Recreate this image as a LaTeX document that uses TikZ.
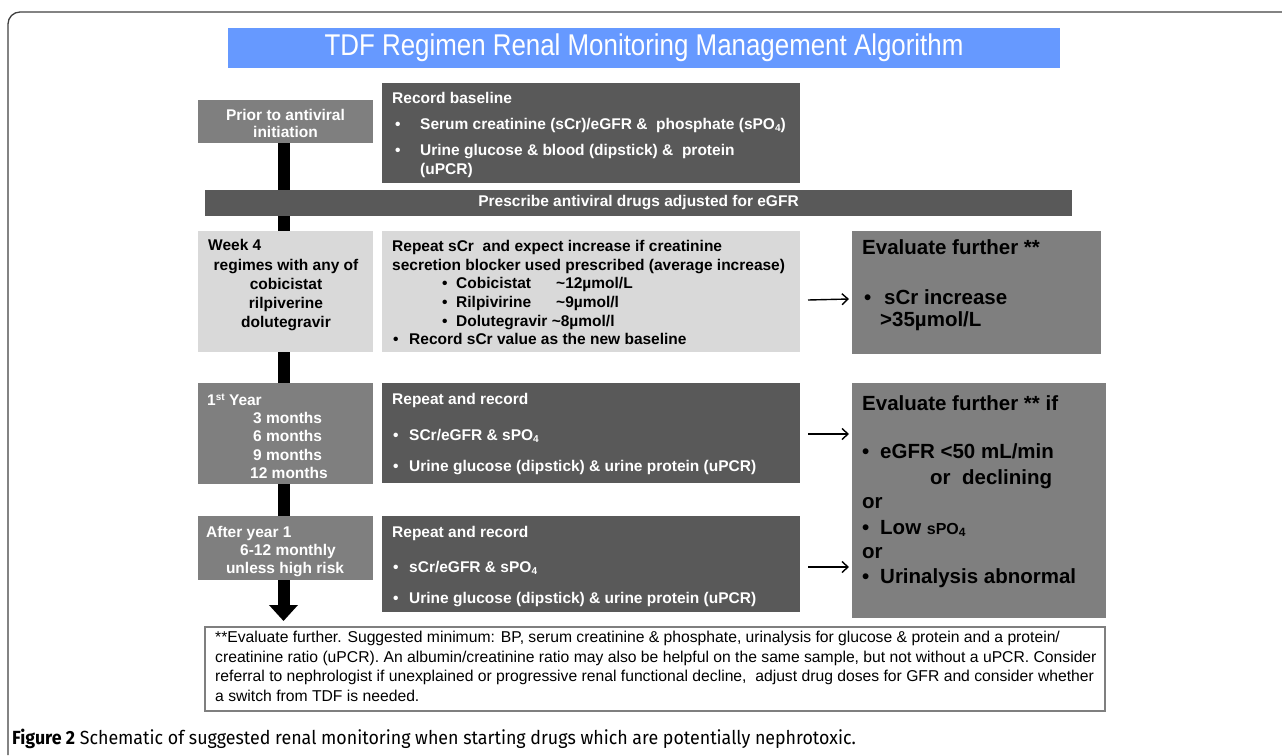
\documentclass[tikz,border=0pt]{standalone}
\usepackage{fontspec}
\setmainfont{Liberation Sans}
\newfontfamily\titlefont[FakeStretch=0.863]{Liberation Sans}
\newfontfamily\capfont[FakeStretch=0.938]{Fira Sans}
\usetikzlibrary{arrows.meta}
\definecolor{tblue}{HTML}{6699FF}
\definecolor{dgray}{HTML}{595959}
\definecolor{mgray}{HTML}{7F7F7F}
\definecolor{lgray}{HTML}{D9D9D9}
\definecolor{framec}{HTML}{404040}
\newcommand{\bodysize}{\fontsize{15.5}{19}\selectfont\bfseries}
\newcommand{\bigsize}{\fontsize{20.5}{24}\selectfont\bfseries}
\newcommand{\subA}[1]{\raisebox{-0.35ex}{\fontsize{10}{10}\selectfont #1}}
\newcommand{\subB}[1]{\raisebox{-0.35ex}{\fontsize{12}{12}\selectfont #1}}
\newcommand{\supA}[1]{\raisebox{0.55ex}{\fontsize{10}{10}\selectfont #1}}
\begin{document}
\begin{tikzpicture}[x=1pt,y=-1pt,
  box/.style={draw=none, inner sep=0pt, outer sep=0pt, anchor=north west},
  tw/.style={inner sep=0pt, text=white, font=\bodysize},
  tb/.style={inner sep=0pt, text=black, font=\bodysize},
  tbig/.style={inner sep=0pt, text=black, font=\bigsize},
  conn/.style={line width=1.4pt, -{Straight Barb[length=6pt,width=11pt]}},
  mainbar/.style={line width=12pt, -{Triangle[width=28pt,length=16pt]}}
]
\useasboundingbox (0,0) rectangle (1282,755);
% frame
\draw[line width=1.3pt, framec, rounded corners=12pt] (1282,12) -- (8,12) -- (8,755);
% title
\node[box, fill=tblue, minimum width=832pt, minimum height=40pt] (title) at (228,28) {};
\node[inner sep=0pt, text=white, font=\titlefont\fontsize{30}{32}\selectfont] (titletext) at (title.center) {TDF Regimen Renal Monitoring Management Algorithm};
% prior box and main bar
\node[box, fill=mgray, minimum width=175pt, minimum height=43pt] (prior) at (198,100) {};
\coordinate (barend) at (283.5,621);
\draw[mainbar] (prior.south -| barend) -- (barend);
\node[tw, align=center, font=\bodysize\fontsize{15.5}{17}\selectfont, yshift=-2pt] (priortext) at (prior.center) {Prior to antiviral\\ initiation};
% record baseline
\node[box, fill=dgray, minimum width=418pt, minimum height=100pt] (rb) at (382,83) {};
\node[tw, anchor=base west] (rb1) at (392,103) {Record baseline};
\node[tw, anchor=base west] (rb2b) at (395,129) {\textbullet};
\node[tw, anchor=base west] (rb2) at (420,129) {Serum creatinine (sCr)/eGFR \&\ \ phosphate (sPO\subA{4})};
\node[tw, anchor=base west] (rb3b) at (395,155) {\textbullet};
\node[tw, anchor=base west] (rb3) at (420,155) {Urine glucose \& blood (dipstick) \&\ \ protein};
\node[tw, anchor=base west] (rb4) at (420,174) {(uPCR)};
% prescribe bar
\node[box, fill=dgray, minimum width=867pt, minimum height=26pt] (presc) at (205,190) {};
\node[tw] (presctext) at (presc.center) {Prescribe antiviral drugs adjusted for eGFR};
% week 4
\node[box, fill=lgray, minimum width=175pt, minimum height=121pt] (wk4) at (198,231) {};
\node[tb, anchor=base west] (wk4a) at (208,250) {Week 4};
\node[tb, anchor=base] (wk4b) at (286,270) {regimes with any of};
\node[tb, anchor=base] (wk4c) at (286,289) {cobicistat};
\node[tb, anchor=base] (wk4d) at (286,308) {rilpiverine};
\node[tb, anchor=base] (wk4e) at (286,327) {dolutegravir};
% repeat sCr
\node[box, fill=lgray, minimum width=418pt, minimum height=121pt] (rsc) at (382,231) {};
\node[tb, anchor=base west] (rsc1) at (392,251) {Repeat sCr\ \ and expect increase if creatinine};
\node[tb, anchor=base west] (rsc2) at (392,270) {secretion blocker used prescribed (average increase)};
\node[tb, anchor=base west] (rsc3b) at (442,288) {\textbullet};
\node[tb, anchor=base west] (rsc3) at (456,288) {Cobicistat};
\node[tb, anchor=base west] (rsc3v) at (556,288) {\textasciitilde 12µmol/L};
\node[tb, anchor=base west] (rsc4b) at (442,307) {\textbullet};
\node[tb, anchor=base west] (rsc4) at (456,307) {Rilpivirine};
\node[tb, anchor=base west] (rsc4v) at (556,307) {\textasciitilde 9µmol/l};
\node[tb, anchor=base west] (rsc5b) at (442,326) {\textbullet};
\node[tb, anchor=base west] (rsc5) at (456,326) {Dolutegravir \textasciitilde 8µmol/l};
\node[tb, anchor=base west] (rsc6b) at (393,344) {\textbullet};
\node[tb, anchor=base west] (rsc6) at (409,344) {Record sCr value as the new baseline};
% evaluate 1
\node[box, fill=mgray, minimum width=249pt, minimum height=123pt] (ev1) at (852,231) {};
\node[tbig, anchor=base west] (ev1a) at (862,254) {Evaluate further **};
\node[tbig, anchor=base west] (ev1b) at (864,304) {\textbullet};
\node[tbig, anchor=base west] (ev1c) at (884,304) {sCr increase};
\node[tbig, anchor=base west] (ev1d) at (880,326) {>35µmol/L};
% 1st year
\node[box, fill=mgray, minimum width=175pt, minimum height=101pt] (yr1) at (198,383) {};
\node[tw, anchor=base west] (yr1a) at (207,405) {1\supA{st} Year};
\node[tw, anchor=base west] (yr1b) at (253,423) {3 months};
\node[tw, anchor=base west] (yr1c) at (253,441) {6 months};
\node[tw, anchor=base west] (yr1d) at (253,460) {9 months};
\node[tw, anchor=base west] (yr1e) at (250,478) {12 months};
% repeat and record 1
\node[box, fill=dgray, minimum width=418pt, minimum height=100pt] (rr1) at (382,383) {};
\node[tw, anchor=base west] (rr1a) at (392,404) {Repeat and record};
\node[tw, anchor=base west] (rr1bb) at (393,440) {\textbullet};
\node[tw, anchor=base west] (rr1b) at (409,440) {SCr/eGFR \& sPO\subA{4}};
\node[tw, anchor=base west] (rr1cb) at (393,471) {\textbullet};
\node[tw, anchor=base west] (rr1c) at (409,471) {Urine glucose (dipstick) \& urine protein (uPCR)};
% evaluate 2
\node[box, fill=mgray, minimum width=254pt, minimum height=235pt] (ev2) at (852,383) {};
\node[tbig, anchor=base west] (ev2a) at (862,410) {Evaluate further ** if};
\node[tbig, anchor=base west] (ev2bb) at (862,458) {\textbullet};
\node[tbig, anchor=base west] (ev2b) at (880,458) {eGFR <50 mL/min};
\node[tbig, anchor=base west] (ev2c) at (930,484) {or\ \ declining};
\node[tbig, anchor=base west] (ev2d) at (862,508) {or};
\node[tbig, anchor=base west] (ev2eb) at (862,534) {\textbullet};
\node[tbig, anchor=base west] (ev2e) at (880,534) {Low {\fontsize{16}{16}\selectfont sPO\subB{4}}};
\node[tbig, anchor=base west] (ev2f) at (862,558) {or};
\node[tbig, anchor=base west] (ev2gb) at (862,583) {\textbullet};
\node[tbig, anchor=base west] (ev2g) at (880,583) {Urinalysis abnormal};
% after year 1
\node[box, fill=mgray, minimum width=175pt, minimum height=64pt] (ay1) at (198,516) {};
\node[tw, anchor=base west] (ay1a) at (206,537) {After year 1};
\node[tw, anchor=base] (ay1b) at (288,555) {6-12 monthly};
\node[tw, anchor=base] (ay1c) at (285,573) {unless high risk};
% repeat and record 2
\node[box, fill=dgray, minimum width=418pt, minimum height=96pt] (rr2) at (382,516) {};
\node[tw, anchor=base west] (rr2a) at (392,537) {Repeat and record};
\node[tw, anchor=base west] (rr2bb) at (393,572) {\textbullet};
\node[tw, anchor=base west] (rr2b) at (409,572) {sCr/eGFR \& sPO\subA{4}};
\node[tw, anchor=base west] (rr2cb) at (393,603) {\textbullet};
\node[tw, anchor=base west] (rr2c) at (409,603) {Urine glucose (dipstick) \& urine protein (uPCR)};
% arrows
\draw[conn] ([xshift=8pt,yshift=-8.5pt]rsc.east) -- ([xshift=-3pt,yshift=-7.5pt]ev1.west |- rsc.east);
\draw[conn] ([xshift=8pt,yshift=-1pt]rr1.east) -- ([xshift=-3pt,yshift=-1pt]ev2.west |- rr1.east);
\draw[conn] ([xshift=8pt,yshift=-3pt]rr2.east) -- ([xshift=-3pt,yshift=-3pt]ev2.west |- rr2.east);
% note
\node[box, draw=mgray, line width=1.5pt, fill=white, minimum width=900pt, minimum height=84pt] (note) at (205,627) {};
\node[inner sep=0pt, anchor=north west, align=left, font=\fontsize{15.7}{19.7}\selectfont] (notetext) at (215,631) {**Evaluate further. Suggested minimum: BP, serum creatinine \& phosphate, urinalysis for glucose \& protein and a protein/\\
creatinine ratio (uPCR). An albumin/creatinine ratio may also be helpful on the same sample, but not without a uPCR. Consider\\
referral to nephrologist if unexplained or progressive renal functional decline,\ \ adjust drug doses for GFR and consider whether\\
a switch from TDF is needed.};
% caption
\node[inner sep=0pt, anchor=base west, font=\capfont\fontsize{19}{22}\selectfont] (cap) at (12,744) {\textbf{Figure 2} Schematic of suggested renal monitoring when starting drugs which are potentially nephrotoxic.};
\end{tikzpicture}
\end{document}
